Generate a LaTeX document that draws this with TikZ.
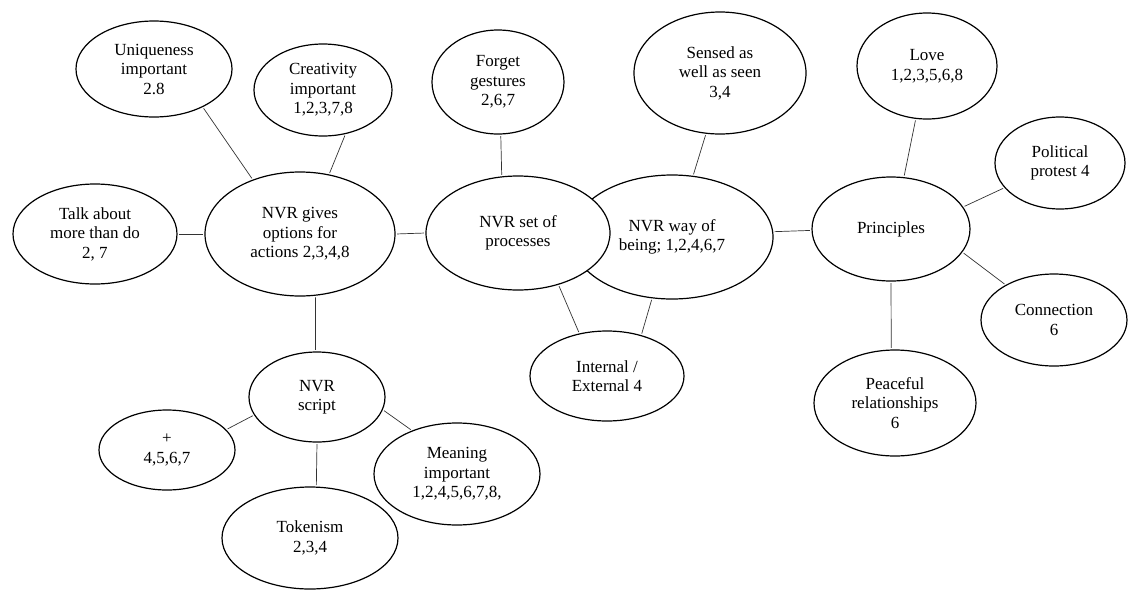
\documentclass[tikz,border=0pt]{standalone}
\usepackage{fontspec}
\setmainfont{Liberation Serif}
\newfontfamily\bubfont{Liberation Serif}
\usetikzlibrary{shapes.geometric}
\tikzset{
  bubble/.style={ellipse, draw=black, line width=1.2pt, fill=white, inner sep=0pt, align=center,
    font=\bubfont\fontsize{17}{19.5}\selectfont},
  link/.style={draw=black!80, line width=0.7pt, shorten <=1.5pt, shorten >=1.5pt}
}
\newcommand{\bub}[5]{\node[bubble, minimum width=#3pt, minimum height=#4pt] (#1) at #2 {#5};}
\begin{document}
\begin{tikzpicture}[x=1pt,y=-1pt]
\useasboundingbox (0,0) rectangle (1128,590);
% nodes
\bub{uniq}{(154,69)}{156}{96}{Uniqueness\\important\\2.8}
\bub{creat}{(323,90)}{138}{92}{Creativity\\important\\1,2,3,7,8}
\bub{forget}{(498,82)}{132}{104}{Forget\\gestures\\2,6,7}
\bub{talk}{(95,234)}{164}{100}{Talk about\\more than do\\2, 7}
\bub{gives}{(300,234)}{190}{124}{NVR gives\\options for\\actions 2,3,4,8}
\bub{way}{(672,237)}{202}{124}{NVR way of\\being; 1,2,4,6,7}
\bub{set}{(518,233)}{184}{114}{NVR set of\\processes}
\bub{sensed}{(720,73)}{172}{122}{Sensed as\\well as seen\\3,4}
\bub{love}{(927,66)}{140}{106}{Love\\1,2,3,5,6,8}
\bub{polit}{(1060,163)}{130}{92}{Political\\protest 4}
\bub{princ}{(891,229)}{158}{104}{Principles}
\bub{conn}{(1054,320)}{146}{92}{Connection\\6}
\bub{peace}{(895,403)}{162}{106}{Peaceful\\relationships\\6}
\bub{intext}{(607,376)}{154}{90}{Internal /\\External 4}
\bub{script}{(317,397)}{136}{90}{NVR\\script}
\bub{plus}{(167,450)}{136}{80}{+\\4,5,6,7}
\bub{meaning}{(457,474)}{166}{102}{Meaning\\important\\1,2,4,5,6,7,8,}
\bub{token}{(310,538)}{176}{102}{Tokenism\\2,3,4}
% connectors
\path[link] (uniq.-38.8) -- (gives.131.6);
\path[link] (creat.-63.9) -- (gives.64.6);
\path[link] (forget.-87) -- (set.106.9);
\path[link] (talk.east) -- (gives.west);
\path[link] (gives.east) -- (set.west);
\path[link] (gives.-76.6) -- (script.92.4);
\path[link] (sensed.-103.4) -- (way.71.8);
\path[link] (way.3) -- (princ.181.5);
\path[link] (love.-102.3) -- (princ.76.5);
\path[link] (polit.204.9) -- (princ.17.5);
\path[link] (conn.144.5) -- (princ.-18.4);
\path[link] (peace.94) -- (princ.-90);
\path[link] (intext.123.1) -- (set.-52.1);
\path[link] (intext.50.1) -- (way.-108.2);
\path[link] (script.196.3) -- (plus.19);
\path[link] (script.-90) -- (token.83.5);
\path[link] (script.-11.8) -- (meaning.136.9);
\end{tikzpicture}
\end{document}
